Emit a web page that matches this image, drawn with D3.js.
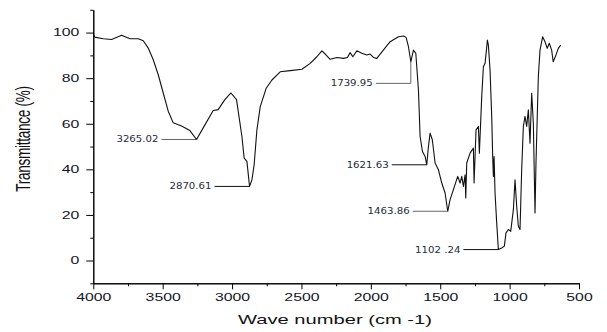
<!DOCTYPE html>
<html>
<head>
<meta charset="utf-8">
<script src="https://cdn.jsdelivr.net/npm/d3@7"></script>
<style>
  body { margin: 0; background: #fff; }
  svg { display: block; }
</style>
</head>
<body>
<svg width="607" height="332"></svg>
<script>
// IR spectrum
var waveNumber = [4000, 3990, 3928, 3868, 3796, 3736, 3676, 3640, 3604, 3568, 3532, 3496, 3460, 3424, 3364, 3304, 3256, 3208, 3136, 3100, 3052, 3008, 2968, 2929, 2913, 2893, 2874, 2857, 2841, 2821, 2797, 2754, 2713, 2653, 2581, 2497, 2437, 2389, 2353, 2329, 2293, 2245, 2197, 2169, 2149, 2130, 2101, 2065, 2029, 2005, 1981, 1957, 1910, 1861, 1801, 1765, 1746, 1729, 1712, 1693, 1676, 1657, 1645, 1628, 1609, 1597, 1585, 1573, 1557, 1537, 1513, 1489, 1465, 1446, 1429, 1405, 1374, 1357, 1345, 1333, 1321, 1316, 1309, 1285, 1261, 1256, 1242, 1225, 1218, 1201, 1189, 1177, 1160, 1153, 1141, 1129, 1122, 1117, 1112, 1105, 1093, 1081, 1057, 1038, 1026, 1009, 992, 973, 961, 949, 937, 925, 913, 901, 889, 877, 865, 853, 841, 829, 817, 810, 793, 781, 762, 745, 729, 714, 697, 686, 666, 649, 632];
var transmittance = [99.5, 98.0, 97.3, 97.0, 98.8, 97.3, 97.3, 96.4, 93.2, 88.1, 81.5, 73.5, 65.5, 60.4, 59.0, 57.0, 53.1, 58.2, 65.8, 66.2, 70.6, 73.5, 70.6, 54.4, 44.9, 43.5, 32.5, 35.4, 42.0, 57.3, 67.5, 75.6, 79.2, 82.8, 83.3, 83.9, 86.5, 89.4, 92.0, 90.6, 88.3, 89.1, 88.7, 89.1, 91.2, 89.4, 92.0, 90.9, 90.2, 90.6, 89.1, 88.7, 92.3, 96.0, 98.2, 98.5, 97.9, 93.8, 87.2, 92.3, 90.9, 74.8, 54.4, 47.8, 45.6, 42.0, 50.0, 55.9, 53.0, 42.8, 39.8, 34.0, 29.6, 21.6, 26.7, 31.1, 36.9, 34.0, 36.9, 32.5, 37.6, 27.4, 42.8, 47.1, 49.3, 34.0, 57.3, 58.8, 47.1, 71.9, 85.0, 86.5, 96.7, 94.5, 83.6, 63.2, 45.6, 36.9, 45.6, 29.6, 16.5, 4.8, 5.5, 6.3, 12.1, 13.6, 12.8, 22.3, 35.4, 23.8, 15.0, 13.6, 39.8, 58.8, 63.2, 58.8, 66.1, 51.5, 73.4, 60.3, 20.9, 42.8, 80.7, 92.3, 98.2, 96.0, 93.1, 95.3, 92.3, 87.2, 90.2, 93.1, 94.5];

var xTicks = [4000, 3500, 3000, 2500, 2000, 1500, 1000, 500];
var xMinor = [3750, 3250, 2750, 2250, 1750, 1250, 750];
var yTicks = [0, 20, 40, 60, 80, 100];
var yMinor = [-10, 10, 30, 50, 70, 90, 110];

// peak labels: text, anchor wave number, anchor transmittance
var peakLabels = ["3265.02", "2870.61", "1739.95", "1621.63", "1463.86", "1102 .24"];
var peakWn = [3256, 2874, 1712, 1597, 1446, 1081];
var peakT = [53.1, 32.5, 87.2, 42.0, 21.6, 4.8];

// the picture is stretched sideways, so is the text
var sx = 1.55;
var leaderDrop = { "1739.95": 21.6 };
var leaderTone = { "3265.02": "#666", "1739.95": "#666", "1463.86": "#666" };

var svg = d3.select("svg");

var x = d3.scaleLinear().domain([4000, 500]).range([93.3, 579]);
var y = d3.scaleLinear().domain([-10, 110]).range([283.3, 9.8]);

function styleAxis(g) {
  g.select(".domain").attr("stroke", "#000");
  g.selectAll(".tick line").attr("stroke", "#000");
  g.selectAll("text")
    .attr("transform", "scale(" + sx + ",1)")
    .style("font-family", "'Liberation Sans', Arial, sans-serif")
    .style("font-size", "10.2px")
    .attr("fill", "#141428");
}

svg.append("g")
  .attr("transform", "translate(0," + y(-10) + ")")
  .call(d3.axisBottom(x).tickValues(xMinor).tickSize(3).tickSizeOuter(0).tickFormat(""))
  .call(styleAxis);

svg.append("g")
  .attr("transform", "translate(0," + y(-10) + ")")
  .call(d3.axisBottom(x).tickValues(xTicks).tickSize(6).tickPadding(4).tickSizeOuter(0).tickFormat(d3.format("d")))
  .call(styleAxis);

svg.append("g")
  .attr("transform", "translate(" + x(4000) + ",0)")
  .call(d3.axisLeft(y).tickValues(yMinor).tickSize(3).tickSizeOuter(0).tickFormat(""))
  .call(styleAxis);

svg.append("g")
  .attr("transform", "translate(" + x(4000) + ",0)")
  .call(d3.axisLeft(y).tickValues(yTicks).tickSize(7).tickPadding(2).tickSizeOuter(0).tickFormat(d3.format("d")))
  .call(styleAxis);

// axis titles
svg.append("text")
  .attr("transform", "translate(335,324) scale(" + sx + ",1)")
  .attr("text-anchor", "middle")
  .style("font-family", "'Liberation Sans', Arial, sans-serif")
  .style("font-size", "13px")
  .attr("fill", "#111")
  .text("Wave number (cm -1)");

svg.append("text")
  .attr("transform", "translate(30,139) scale(1.45,1) rotate(-90)")
  .attr("text-anchor", "middle")
  .style("font-family", "'Liberation Sans', Arial, sans-serif")
  .style("font-size", "13.6px")
  .style("letter-spacing", "-0.3px")
  .attr("fill", "#111")
  .text("Transmittance (%)");

// spectrum
var pts = waveNumber.map(function(d, i) { return [d, transmittance[i]]; });
var line = d3.line()
  .x(function(d) { return x(d[0]); })
  .y(function(d) { return y(d[1]); });

svg.append("path")
  .datum(pts)
  .attr("d", line)
  .attr("fill", "none")
  .attr("stroke", "#111")
  .attr("stroke-width", 1.1)
  .attr("stroke-linejoin", "round");

// peak annotations
var ann = svg.append("g");
peakLabels.forEach(function(lab, i) {
  var px = x(peakWn[i]), py = y(peakT[i]);
  var drop = leaderDrop[lab] || 0;
  var ly = py + drop;
  var tone = leaderTone[lab] || "#111";
  var pathStr = "M" + (px - 35) + "," + ly + "H" + px;
  if (drop) pathStr += "V" + py;
  ann.append("path")
    .attr("d", pathStr)
    .attr("fill", "none")
    .attr("stroke", tone)
    .attr("stroke-width", 1);
  ann.append("text")
    .attr("transform", "translate(" + (px - 38) + "," + ly + ") scale(1.2,1)")
    .attr("text-anchor", "end")
    .attr("dy", "0.35em")
    .style("font-family", "'DejaVu Sans', Verdana, sans-serif")
    .style("font-size", "8.5px")
    .attr("fill", "#1e2a3c")
    .text(lab);
});
</script>
</body>
</html>
